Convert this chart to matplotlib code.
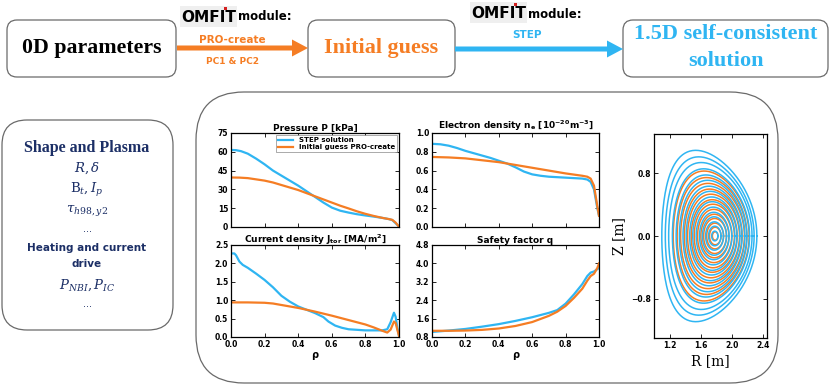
import numpy as np
import matplotlib
matplotlib.use("Agg")
import matplotlib.pyplot as plt
from matplotlib.patches import FancyBboxPatch, FancyArrow, Rectangle
from matplotlib import font_manager

plt.rcParams['font.family'] = ['DejaVu Sans']
plt.rcParams['mathtext.fontset'] = 'dejavusans'

# ---------------- data ----------------
BLUE = "#2fb5f2"
ORANGE = "#f57d24"
NAVY = "#1c2f66"

rho_P_step = [0, 0.03, 0.06, 0.1, 0.15, 0.2, 0.25, 0.3, 0.35, 0.4, 0.45, 0.5, 0.55, 0.6,
              0.65, 0.7, 0.75, 0.8, 0.85, 0.9, 0.94, 0.96, 0.98, 1.0]
P_step = [61.5, 61.3, 60.5, 58.5, 54.5, 50, 45, 41, 37, 33, 28.5, 24, 19.5, 15.5,
          13, 11.5, 10.2, 9.2, 8.3, 7.3, 6.3, 5.5, 3, 0.3]
rho_P_init = [0, 0.05, 0.1, 0.15, 0.2, 0.25, 0.3, 0.35, 0.4, 0.45, 0.5, 0.55, 0.6, 0.65,
              0.7, 0.75, 0.8, 0.85, 0.9, 0.94, 0.96, 0.98, 1.0]
P_init = [39.5, 39.4, 39, 38, 37, 35.5, 33.5, 31.5, 29.5, 27, 24.5, 22, 19.5, 17,
          14.8, 12.5, 10.5, 8.8, 7.3, 6.3, 5.7, 3.5, 0.3]

rho_ne_step = [0, 0.05, 0.1, 0.15, 0.2, 0.25, 0.3, 0.35, 0.4, 0.45, 0.5, 0.55, 0.6, 0.65,
               0.7, 0.8, 0.9, 0.93, 0.95, 0.97, 0.99, 1.0]
ne_step = [0.885, 0.88, 0.865, 0.84, 0.81, 0.785, 0.76, 0.735, 0.705, 0.675, 0.635, 0.59,
           0.56, 0.545, 0.535, 0.525, 0.515, 0.505, 0.48, 0.40, 0.2, 0.12]
rho_ne_init = [0, 0.1, 0.2, 0.3, 0.4, 0.5, 0.6, 0.7, 0.8, 0.9, 0.93, 0.95, 0.97, 0.99, 1.0]
ne_init = [0.745, 0.74, 0.73, 0.71, 0.69, 0.66, 0.63, 0.6, 0.57, 0.545, 0.535, 0.515,
           0.44, 0.22, 0.12]

rho_j_step = [0, 0.02, 0.03, 0.05, 0.07, 0.1, 0.15, 0.2, 0.25, 0.3, 0.35, 0.4, 0.45, 0.5,
              0.55, 0.58, 0.62, 0.66, 0.7, 0.8, 0.9, 0.93, 0.95, 0.97, 0.98, 0.99, 1.0]
j_step = [2.27, 2.27, 2.22, 2.05, 1.96, 1.88, 1.72, 1.55, 1.35, 1.12, 0.96, 0.83, 0.74,
          0.65, 0.54, 0.42, 0.31, 0.25, 0.21, 0.18, 0.18, 0.21, 0.4, 0.66, 0.55, 0.25, 0.03]
rho_j_init = [0, 0.1, 0.2, 0.25, 0.3, 0.35, 0.4, 0.5, 0.6, 0.7, 0.8, 0.85, 0.9, 0.93,
              0.95, 0.97, 0.98, 0.99, 1.0]
j_init = [0.94, 0.94, 0.93, 0.91, 0.87, 0.83, 0.79, 0.69, 0.58, 0.46, 0.34, 0.26, 0.17,
          0.12, 0.2, 0.42, 0.38, 0.2, 0.03]

rho_q_step = [0, 0.1, 0.2, 0.3, 0.4, 0.5, 0.6, 0.7, 0.75, 0.8, 0.85, 0.9, 0.93, 0.95, 0.97, 1.0]
q_step = [1.02, 1.08, 1.15, 1.25, 1.36, 1.5, 1.66, 1.85, 1.97, 2.25, 2.65, 3.1, 3.45, 3.6, 3.65, 3.8]
rho_q_init = [0, 0.1, 0.2, 0.3, 0.4, 0.5, 0.6, 0.7, 0.75, 0.8, 0.85, 0.9, 0.93, 0.95, 0.97, 0.99, 1.0]
q_init = [1.07, 1.07, 1.08, 1.11, 1.17, 1.28, 1.45, 1.72, 1.9, 2.15, 2.5, 2.9, 3.25, 3.45,
          3.55, 3.8, 4.0]

# flux surfaces (per surface geometry: centre R, minor radius, elongation, triangularity)
surf_Rc_step = [1.780, 1.780, 1.777, 1.776, 1.774, 1.771, 1.767, 1.763, 1.758, 1.752,
                1.746, 1.739, 1.731, 1.723, 1.715, 1.710]
surf_a_step = [0.040, 0.080, 0.115, 0.155, 0.190, 0.230, 0.270, 0.305, 0.345, 0.380,
               0.420, 0.455, 0.495, 0.535, 0.570, 0.610]
surf_k_step = [1.55, 1.56, 1.57, 1.58, 1.59, 1.60, 1.62, 1.63, 1.65, 1.67, 1.69, 1.71,
               1.73, 1.75, 1.77, 1.79]
surf_d_step = [0.00, 0.01, 0.02, 0.03, 0.04, 0.05, 0.07, 0.08, 0.10, 0.12, 0.14, 0.16,
               0.19, 0.22, 0.25, 0.29]
surf_Rc_init = [1.785, 1.786, 1.784, 1.783, 1.781, 1.778, 1.774, 1.770, 1.764, 1.758,
                1.751, 1.743, 1.734]
surf_a_init = [0.036, 0.074, 0.108, 0.146, 0.180, 0.219, 0.258, 0.293, 0.333, 0.369,
               0.409, 0.446, 0.487]
surf_k_init = [1.50, 1.51, 1.52, 1.53, 1.54, 1.55, 1.57, 1.58, 1.60, 1.62, 1.64, 1.67, 1.70]
surf_d_init = [0.00, 0.01, 0.02, 0.03, 0.04, 0.05, 0.07, 0.08, 0.10, 0.12, 0.14, 0.16, 0.19]

rho_ticks = [0.0, 0.2, 0.4, 0.6, 0.8, 1.0]

# ---------------- figure ----------------
W, H = 830, 385
fig = plt.figure(figsize=(8.3, 3.85), dpi=100)
bg = fig.add_axes([0, 0, 1, 1])
bg.set_xlim(0, W)
bg.set_ylim(H, 0)
bg.axis('off')
renderer = fig.canvas.get_renderer()


def rbox(x0, y0, x1, y1, r, ec='#6a6a6a', lw=0.9):
    bg.add_patch(FancyBboxPatch((x0, y0), x1 - x0, y1 - y0,
                                boxstyle=f"round,pad=0,rounding_size={r}",
                                fc='none', ec=ec, lw=lw))


def fit_text(x, y, s, width_px, **kw):
    t = bg.text(x, y, s, fontsize=12, **kw)
    w = t.get_window_extent(renderer).width
    t.set_fontsize(12 * width_px / w)
    return t


SERIF = ['DejaVu Serif']
HEAD = ['Liberation Serif', 'DejaVu Serif']

# top boxes
rbox(7, 20, 176, 77, 10)
rbox(308, 20, 455, 77, 10)
rbox(623, 20, 828, 77, 10)
fit_text(92, 48, "0D parameters", 138, ha='center', va='center', family=HEAD,
         fontweight='bold', color='black')
fit_text(381, 48, "Initial guess", 113, ha='center', va='center', family=HEAD,
         fontweight='bold', color=ORANGE)
t1 = fit_text(726, 34, "1.5D self-consistent", 183, ha='center', va='center',
              family=HEAD, fontweight='bold', color=BLUE)
bg.text(726, 61, "solution", ha='center', va='center', fontsize=t1.get_fontsize(),
        family=HEAD, fontweight='bold', color=BLUE)

# arrows
bg.add_patch(FancyArrow(177, 48, 131, 0, width=5, head_width=17, head_length=16,
                        length_includes_head=True, color=ORANGE, lw=0))
bg.add_patch(FancyArrow(455, 49, 168, 0, width=5, head_width=17, head_length=16,
                        length_includes_head=True, color=BLUE, lw=0))

# pick a narrow bold font for the OMFIT logo if one is available
names = {f.name for f in font_manager.fontManager.ttflist}
LOGO_FAMILY = 'Liberation Sans Narrow' if 'Liberation Sans Narrow' in names else 'DejaVu Sans'


def logo(x0, y0):
    bg.add_patch(Rectangle((x0, y0), 57, 21, fc='#efefef', ec='none'))
    fit_text(x0 + 28.5, y0 + 11.5, "OMFIT", 55, ha='center', va='center',
             fontweight='bold', family=LOGO_FAMILY, color='black')
    bg.add_patch(Rectangle((x0 + 44, y0 + 0.5), 3, 3, fc='#d42020', ec='none'))


logo(180, 6)
bg.text(238, 16, "module:", ha='left', va='center', fontsize=8.5, fontweight='bold')
logo(470, 2)
bg.text(528, 15, "module:", ha='left', va='center', fontsize=8.5, fontweight='bold')
bg.text(232, 40, "PRO-create", ha='center', va='center', fontsize=7.5,
        fontweight='bold', color=ORANGE)
bg.text(232, 62, "PC1 & PC2", ha='center', va='center', fontsize=6.5,
        fontweight='bold', color=ORANGE)
bg.text(527, 35, "STEP", ha='center', va='center', fontsize=7.5,
        fontweight='bold', color=BLUE)

# left box
rbox(2, 120, 173, 330, 25)
cx = 87
fit_text(cx, 148, "Shape and Plasma", 125, ha='center', va='center',
         fontweight='bold', family=HEAD, color=NAVY)
plt.rcParams['mathtext.fontset'] = 'dejavuserif'
bg.text(cx, 168, r"$R,\delta$", ha='center', va='center', fontsize=9.5, color=NAVY)
bg.text(cx, 190, r"$\mathrm{B}_t, I_p$", ha='center', va='center', fontsize=9.5, color=NAVY)
bg.text(cx, 210, r"$\tau_{h98,y2}$", ha='center', va='center', fontsize=9.5, color=NAVY)
bg.text(cx, 229, "...", ha='center', va='center', fontsize=7, color=NAVY)
bg.text(cx, 248, "Heating and current", ha='center', va='center', fontsize=7.5,
        fontweight='bold', color=NAVY)
bg.text(cx, 264, "drive", ha='center', va='center', fontsize=7.5,
        fontweight='bold', color=NAVY)
bg.text(cx, 285, r"$P_{NBI}, P_{IC}$", ha='center', va='center', fontsize=9.5, color=NAVY)
bg.text(cx, 304, "...", ha='center', va='center', fontsize=7, color=NAVY)
plt.rcParams['mathtext.fontset'] = 'dejavusans'

# big box
rbox(196, 92, 778, 383, 48)


def ax_at(x0, y0, x1, y1):
    return fig.add_axes([x0 / W, 1 - y1 / H, (x1 - x0) / W, (y1 - y0) / H])


def style(ax, xlabels):
    ax.tick_params(direction='in', length=3, width=0.6, labelsize=5.5, top=True,
                   right=True, pad=2)
    for s in ax.spines.values():
        s.set_linewidth(0.9)
    ax.set_xlim(0, 1)
    ax.set_xticks(rho_ticks)
    if xlabels:
        ax.set_xticklabels([f"{t:.1f}" for t in rho_ticks])
        ax.set_xlabel("ρ", fontsize=7, fontweight='bold', labelpad=1)
    else:
        ax.set_xticklabels([])
    for lab in ax.get_xticklabels() + ax.get_yticklabels():
        lab.set_fontweight('bold')


LW = 1.6
axP = ax_at(231, 133, 399, 227)
axP.plot(rho_P_step, P_step, color=BLUE, lw=LW, label="STEP solution")
axP.plot(rho_P_init, P_init, color=ORANGE, lw=LW, label="Initial guess PRO-create")
axP.set_ylim(0, 75)
axP.set_yticks([0, 15, 30, 45, 60, 75])
axP.set_yticklabels(["0", "15", "30", "45", "60", "75"])
axP.set_title("Pressure P [kPa]", fontsize=6.5, fontweight='bold', pad=1.5)
style(axP, False)
leg = axP.legend(loc='upper right', prop={'size': 5, 'weight': 'bold'}, handlelength=2.2,
                 borderpad=0.3, labelspacing=0.15, fancybox=False, framealpha=1,
                 edgecolor='#888', borderaxespad=0.3, handletextpad=0.8)
leg.get_frame().set_linewidth(0.5)

axN = ax_at(432, 133, 599, 227)
axN.plot(rho_ne_step, ne_step, color=BLUE, lw=LW)
axN.plot(rho_ne_init, ne_init, color=ORANGE, lw=LW)
axN.set_ylim(0, 1.0)
ne_ticks = [0.0, 0.2, 0.4, 0.6, 0.8, 1.0]
axN.set_yticks(ne_ticks)
axN.set_yticklabels([f"{t:.1f}" for t in ne_ticks])
axN.set_title(r"Electron density n$_\mathbf{e}$ [10$^\mathbf{-20}$m$^\mathbf{-3}$]",
              fontsize=6.5, fontweight='bold', pad=1.5)
style(axN, False)

axJ = ax_at(231, 245, 399, 337)
axJ.plot(rho_j_step, j_step, color=BLUE, lw=LW)
axJ.plot(rho_j_init, j_init, color=ORANGE, lw=LW)
axJ.set_ylim(0, 2.5)
j_ticks = [0.0, 0.5, 1.0, 1.5, 2.0, 2.5]
axJ.set_yticks(j_ticks)
axJ.set_yticklabels([f"{t:.1f}" for t in j_ticks])
axJ.set_title(r"Current density J$_\mathbf{tor}$ [MA/m$^\mathbf{2}$]",
              fontsize=6.5, fontweight='bold', pad=1.5)
style(axJ, True)

axQ = ax_at(432, 245, 599, 337)
axQ.plot(rho_q_step, q_step, color=BLUE, lw=LW)
axQ.plot(rho_q_init, q_init, color=ORANGE, lw=LW)
axQ.set_ylim(0.8, 4.8)
q_ticks = [0.8, 1.6, 2.4, 3.2, 4.0, 4.8]
axQ.set_yticks(q_ticks)
axQ.set_yticklabels([f"{t:.1f}" for t in q_ticks])
axQ.set_title("Safety factor q", fontsize=6.5, fontweight='bold', pad=1.5)
style(axQ, True)

# flux surfaces
axF = ax_at(654, 134, 767, 338)
th = np.linspace(0, 2 * np.pi, 200)
for Rc, a, k, d in zip(surf_Rc_init, surf_a_init, surf_k_init, surf_d_init):
    axF.plot(Rc + a * np.cos(th + d * np.sin(th)), k * a * np.sin(th), color=ORANGE, lw=1.1)
for Rc, a, k, d in zip(surf_Rc_step, surf_a_step, surf_k_step, surf_d_step):
    axF.plot(Rc + a * np.cos(th + d * np.sin(th)), k * a * np.sin(th), color=BLUE, lw=1.1)
axF.set_xlim(1.0, 2.45)
axF.set_ylim(-1.3, 1.3)
R_ticks = [1.2, 1.6, 2.0, 2.4]
Z_ticks = [-0.8, 0.0, 0.8]
axF.set_xticks(R_ticks)
axF.set_xticklabels([f"{t:.1f}" for t in R_ticks])
axF.set_yticks(Z_ticks)
axF.set_yticklabels(["\u22120.8", "0.0", "0.8"])
axF.tick_params(direction='in', length=3, width=0.6, labelsize=5.5, top=True, right=True, pad=2)
for lab in axF.get_xticklabels() + axF.get_yticklabels():
    lab.set_fontweight('bold')
for s in axF.spines.values():
    s.set_linewidth(0.9)
axF.set_xlabel("R [m]", fontsize=10, family=SERIF, labelpad=3)
axF.set_ylabel("Z [m]", fontsize=10, family=SERIF, labelpad=4)

fig.savefig("out.png", dpi=100)
